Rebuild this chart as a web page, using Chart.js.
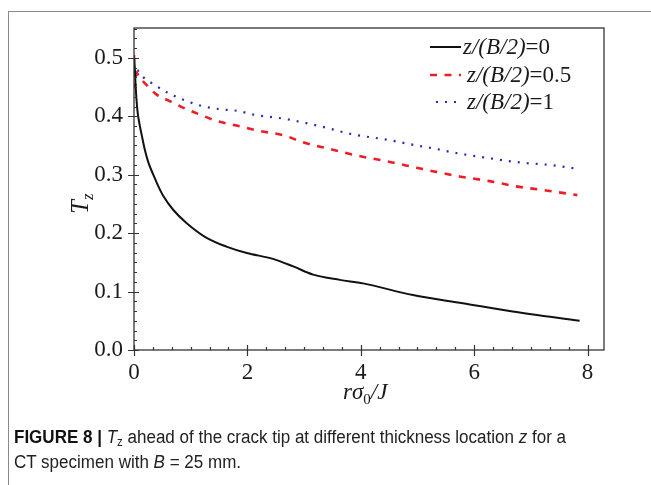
<!DOCTYPE html>
<html>
<head>
<meta charset="utf-8">
<script src="https://cdn.jsdelivr.net/npm/chart.js@4/dist/chart.umd.min.js"></script>
<style>
  html, body { margin: 0; padding: 0; background: #fff; }
  #wrap { position: relative; width: 651px; height: 485px; overflow: hidden; }
  #frame { position: absolute; left: 8px; top: 11px; width: 660px; height: 500px;
           border-left: 1px solid #8a8a8a; border-top: 1px solid #8a8a8a; }
  canvas { position: absolute; left: 0; top: 0; }
  .cap { position: absolute; left: 14px; white-space: nowrap; transform-origin: 0 0;
         font-family: "Liberation Sans Narrow", "Liberation Sans", Arial, sans-serif;
         font-size: 18px; color: #222; }
  .cap b { font-weight: bold; color: #111; }
  .cap sub { font-size: 12px; vertical-align: -3px; line-height: 0; }
</style>
</head>
<body>
<div id="wrap">
  <div id="frame"></div>
  <canvas id="c" width="651" height="485"></canvas>
  <div class="cap" id="cap1" style="top:427px"><b>FIGURE 8 |</b> <i>T</i><sub>z</sub> ahead of the crack tip at different thickness location <i>z</i> for a</div>
  <div class="cap" id="cap2" style="top:452px">CT specimen with <i>B</i> = 25 mm.</div>
</div>
<script>
// T_z along the crack front, three thickness positions
const seriesNames = ['z/(B/2)=0', 'z/(B/2)=0.5', 'z/(B/2)=1'];

const midX = [0, 0.01, 0.03, 0.06, 0.1, 0.14, 0.19, 0.25, 0.34, 0.43, 0.52, 0.69, 0.93, 1.28, 1.63, 1.99, 2.45, 2.81, 3.16, 3.63, 4.04, 4.92, 5.80, 6.68, 7.86];
const midY = [0.50, 0.49, 0.45, 0.41, 0.385, 0.366, 0.343, 0.322, 0.30, 0.28, 0.263, 0.24, 0.217, 0.192, 0.177, 0.166, 0.156, 0.143, 0.129, 0.12, 0.114, 0.094, 0.080, 0.066, 0.050];

const halfX = [0, 0.015, 0.04, 0.1, 0.135, 0.40, 0.63, 0.93, 1.16, 1.46, 1.81, 2.16, 2.69, 2.93, 3.45, 3.92, 4.45, 4.98, 5.27, 5.74, 6.27, 6.74, 7.27, 7.82];
const halfY = [0.505, 0.45, 0.475, 0.465, 0.462, 0.437, 0.426, 0.412, 0.403, 0.392, 0.384, 0.376, 0.366, 0.357, 0.344, 0.333, 0.323, 0.312, 0.306, 0.297, 0.289, 0.280, 0.273, 0.265];

const surfX = [0, 0.015, 0.04, 0.135, 0.31, 0.60, 0.93, 1.22, 1.52, 1.84, 2.10, 2.69, 3.28, 3.86, 4.45, 5.04, 5.33, 5.63, 6.21, 6.80, 7.39, 7.82];
const surfY = [0.50, 0.445, 0.48, 0.469, 0.457, 0.440, 0.426, 0.417, 0.412, 0.409, 0.403, 0.395, 0.383, 0.369, 0.360, 0.349, 0.344, 0.338, 0.329, 0.321, 0.316, 0.310];

const xTicks = [0, 2, 4, 6, 8];
const yTicks = [0.0, 0.1, 0.2, 0.3, 0.4, 0.5];

const pts = (xs, ys) => xs.map((x, i) => ({ x: x, y: ys[i] }));

const SERIF = '"Liberation Serif", "Times New Roman", serif';

// axes box, crossing major ticks, inward minor ticks, titles and legend
const decor = {
  id: 'decor',
  afterDatasetsDraw(chart) {
    const ctx = chart.ctx;
    const a = chart.chartArea;
    const xs = chart.scales.x, ys = chart.scales.y;
    ctx.save();
    ctx.strokeStyle = '#333';
    ctx.lineWidth = 1.3;
    ctx.strokeRect(a.left, a.top, a.right - a.left, a.bottom - a.top);

    ctx.lineWidth = 1.2;
    ctx.beginPath();
    // x axis
    for (let k = 0; k <= 24; k++) {
      const v = k / 3;
      const px = Math.round(xs.getPixelForValue(v)) + 0.5;
      if (k % 6 === 0) { ctx.moveTo(px, a.bottom - 5); ctx.lineTo(px, a.bottom + 6); }
      else { ctx.moveTo(px, a.bottom); ctx.lineTo(px, a.bottom - 3); }
    }
    // y axis
    for (let k = 0; k <= 33; k++) {
      const v = k / 60;
      const py = Math.round(ys.getPixelForValue(v)) + 0.5;
      if (k % 6 === 0) { ctx.moveTo(a.left - 6, py); ctx.lineTo(a.left + 5, py); }
      else { ctx.moveTo(a.left, py); ctx.lineTo(a.left + 3, py); }
    }
    ctx.stroke();

    ctx.fillStyle = '#1a1a1a';
    ctx.textBaseline = 'alphabetic';

    // x title: r sigma_0 / J
    let x = 343, y = 399;
    const seg = (t, font, dy) => {
      ctx.font = font; ctx.fillText(t, x, y + (dy || 0)); x += ctx.measureText(t).width;
    };
    ctx.textAlign = 'left';
    seg('r', 'italic 23px ' + SERIF);
    seg('\u03C3', 'italic 23px ' + SERIF);
    seg('0', '15px ' + SERIF, 5);
    seg('/', 'italic 23px ' + SERIF);
    seg('J', 'italic 23px ' + SERIF);

    // y title: T_z
    ctx.save();
    ctx.translate(88, 214);
    ctx.rotate(-Math.PI / 2);
    x = 0; y = 0;
    seg('T', 'italic 25px ' + SERIF);
    seg('z', 'italic 17px ' + SERIF, 5);
    ctx.restore();

    // legend
    const rows = [47, 75, 102];
    chart.data.datasets.forEach((ds, i) => {
      const ly = rows[i];
      ctx.save();
      ctx.strokeStyle = ds.borderColor;
      ctx.lineWidth = ds.borderWidth;
      ctx.setLineDash(ds.borderDash || []);
      ctx.beginPath();
      ctx.moveTo(i === 2 ? 436 : 430, ly);
      ctx.lineTo(461, ly);
      ctx.stroke();
      ctx.restore();
      x = i === 0 ? 463 : 467; y = ly + 7;
      ctx.fillStyle = '#1a1a1a';
      const name = seriesNames[i];
      const val = name.split('=')[1];
      seg('z', 'italic 23px ' + SERIF);
      seg('/(', 'italic 23px ' + SERIF);
      seg('B', 'italic 23px ' + SERIF);
      seg('/2)', 'italic 23px ' + SERIF);
      seg('=' + val, '23px ' + SERIF);
    });
    ctx.restore();
  }
};

new Chart(document.getElementById('c'), {
  type: 'line',
  data: {
    datasets: [
      { label: seriesNames[0], data: pts(midX, midY), borderColor: '#111111', borderWidth: 2, borderDash: [] },
      { label: seriesNames[1], data: pts(halfX, halfY), borderColor: '#ee1c25', borderWidth: 2.6, borderDash: [7, 7.5] },
      { label: seriesNames[2], data: pts(surfX, surfY), borderColor: '#2b2bb8', borderWidth: 2.2, borderDash: [2, 7] }
    ]
  },
  options: {
    responsive: false,
    animation: false,
    events: [],
    layout: { padding: { left: 0, top: 28, right: 47, bottom: 0 } },
    elements: { point: { radius: 0 }, line: { cubicInterpolationMode: 'monotone', fill: false } },
    plugins: { legend: { display: false }, tooltip: { enabled: false } },
    scales: {
      x: {
        type: 'linear', min: 0, max: 8.29,
        grid: { display: false, drawTicks: false },
        border: { display: false },
        afterBuildTicks: s => { s.ticks = xTicks.map(v => ({ value: v })); },
        afterFit: s => { s.height = 135; },
        ticks: { padding: 9, color: '#1a1a1a', maxRotation: 0, autoSkip: false,
                 font: { family: SERIF, size: 23 }, callback: v => String(v) }
      },
      y: {
        type: 'linear', min: 0, max: 0.551,
        grid: { display: false, drawTicks: false },
        border: { display: false },
        afterBuildTicks: s => { s.ticks = yTicks.map(v => ({ value: v })); },
        afterFit: s => { s.width = 134; },
        ticks: { padding: 11, color: '#1a1a1a', autoSkip: false,
                 font: { family: SERIF, size: 23 }, callback: v => v.toFixed(1) }
      }
    }
  },
  plugins: [decor]
});

// narrow caption lines to the figure text width
(function () {
  const c1 = document.getElementById('cap1'), c2 = document.getElementById('cap2');
  const k = 552 / c1.getBoundingClientRect().width;
  if (k < 1) { c1.style.transform = 'scaleX(' + k + ')'; c2.style.transform = 'scaleX(' + k + ')'; }
})();
</script>
</body>
</html>
